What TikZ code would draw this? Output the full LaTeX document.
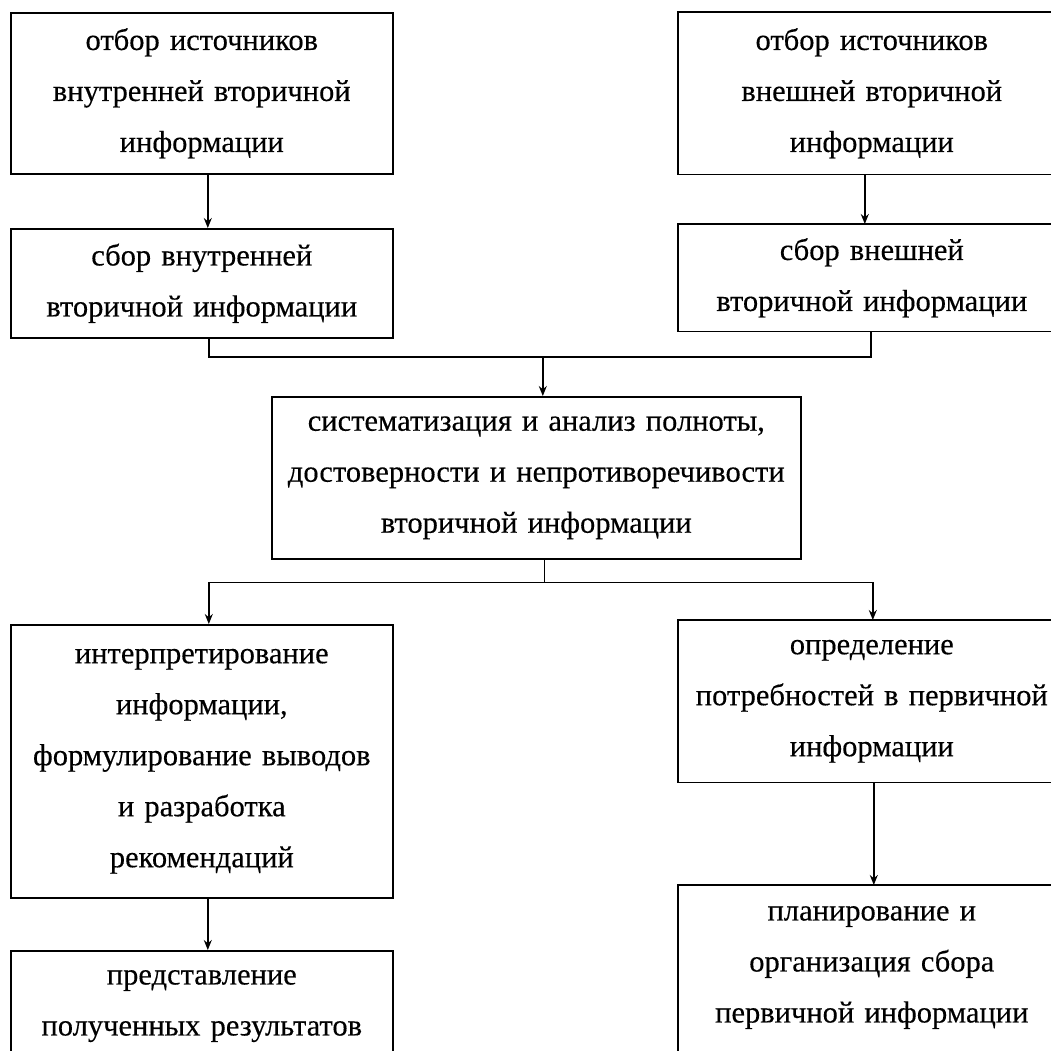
\documentclass[tikz,border=0pt]{standalone}
\usepackage{fontspec}
\setmainfont{Liberation Serif}
\newfontfamily\heavy{Liberation Serif}[FakeBold=0.3,WordSpace=0.85]
\usetikzlibrary{arrows.meta,calc}
\tikzset{
  box/.style={draw, line width=1.6pt, inner sep=0pt, align=center,
    font=\heavy\fontsize{30.5}{51}\selectfont, anchor=north west},
  openbox/.style={box, draw=none},
  edge/.style={line width=1.6pt},
  arr/.style={line width=1.5pt, -{Stealth[length=10pt,width=8pt]}},
  ln/.style={line width=1.5pt},
}
\begin{document}
\begin{tikzpicture}[x=1pt,y=-1pt]
\useasboundingbox (0,0) rectangle (1051,1051);
\fill[white] (0,0) rectangle (1051,1051);
\node[box, text width=382pt, minimum height=161pt] (b1) at (10,12) {отбор источников\\внутренней вторичной\\информации};
\node[openbox, text width=386pt, minimum height=161pt] (b2) at (678,12) {отбор источников\\внешней вторичной\\информации};
\node[box, text width=382pt, minimum height=109pt] (b3) at (10,228) {сбор внутренней\\вторичной информации};
\node[openbox, text width=386pt, minimum height=106pt] (b4) at (678,224) {сбор внешней\\вторичной информации};
\node[box, text width=529pt, minimum height=162pt] (b5) at (271,396) {систематизация и анализ полноты,\\достоверности и непротиворечивости\\вторичной информации};
\node[box, text width=382pt, minimum height=273pt] (b6) at (10,624) {интерпретирование\\информации,\\формулирование выводов\\и разработка\\рекомендаций};
\node[openbox, text width=386pt, minimum height=161pt] (b8) at (678,620) {определение\\потребностей в первичной\\информации};
\node[box, text width=382pt, minimum height=155pt] (b7) at (10,950) {представление\\полученных результатов\\\mbox{}};
\node[openbox, text width=386pt, minimum height=208pt] (b9) at (678,885) {планирование и\\организация сбора\\первичной информации\\\mbox{}};
\foreach \b in {b2,b4,b8,b9}
  \draw[edge] (\b.north east) -- (\b.north west) -- (\b.south west) -- (\b.south east);
\coordinate (jm) at ($(b5.north)+(6.5,-39)$);
\coordinate (sm) at ($(b5.south)+(8,23)$);
\draw[arr] ([xshift=6pt]b1.south) -- ([xshift=6pt]b3.north);
\draw[arr] ([xshift=-7pt]b2.south) -- ([xshift=-7pt]b4.north);
\draw[ln] ([xshift=7pt]b3.south) |- (jm) -| ([xshift=-1pt]b4.south);
\draw[arr] (jm) -- (jm |- b5.north);
\draw[ln] ([xshift=8pt]b5.south) -- (sm);
\draw[arr] (sm) -| ([xshift=7pt]b6.north);
\draw[arr] (sm) -| ([xshift=1pt]b8.north);
\draw[arr] ([xshift=6pt]b6.south) -- ([xshift=6pt]b7.north);
\draw[arr] ([xshift=2pt]b8.south) -- ([xshift=2pt]b9.north);
\end{tikzpicture}
\end{document}
